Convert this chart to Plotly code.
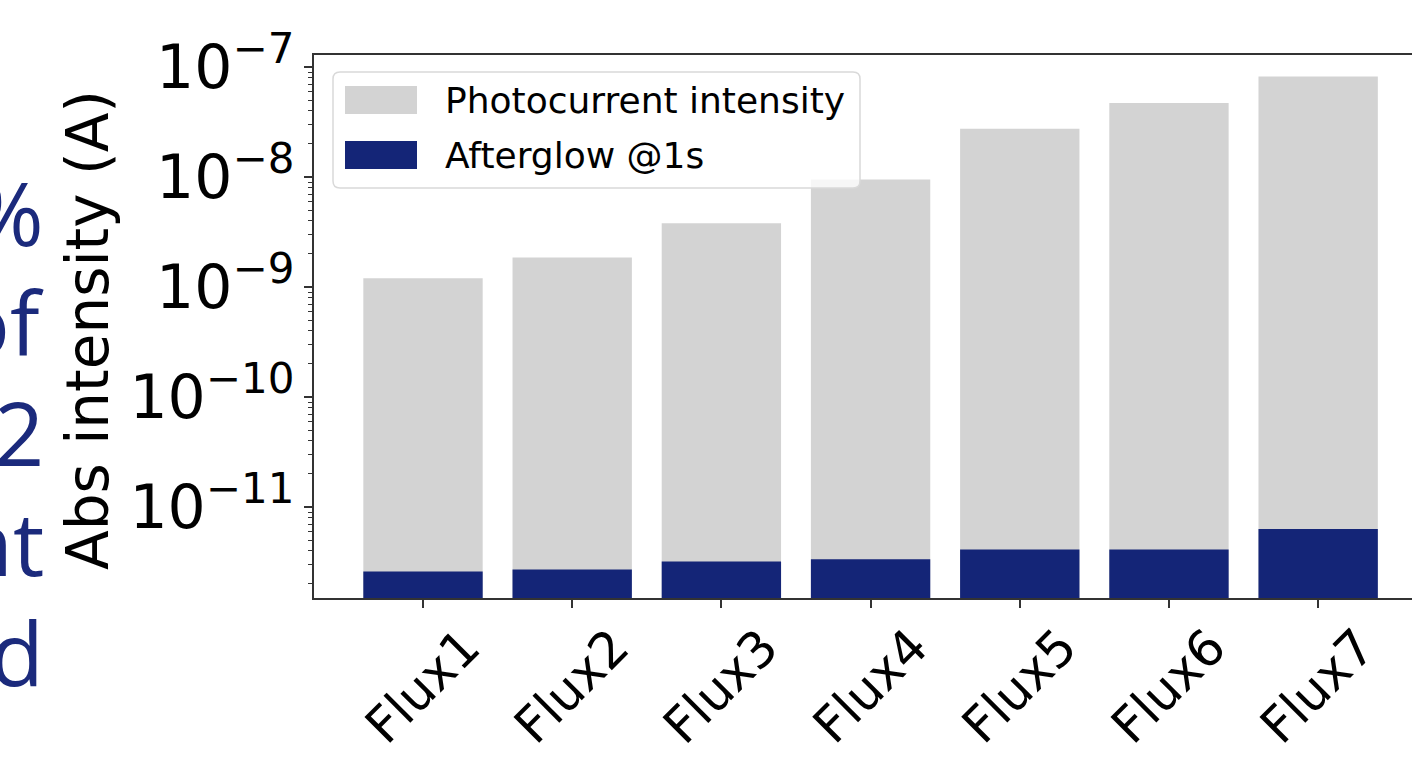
import plotly.graph_objects as go

# Data
categories = ["Flux1", "Flux2", "Flux3", "Flux4", "Flux5", "Flux6", "Flux7"]
photocurrent = [1.2e-9, 1.85e-9, 3.8e-9, 9.5e-9, 2.75e-8, 4.7e-8, 8.2e-8]
afterglow_1s = [2.6e-12, 2.7e-12, 3.2e-12, 3.35e-12, 4.1e-12, 4.1e-12, 6.3e-12]
series_names = ["Photocurrent intensity", "Afterglow @1s"]
y_title = "Abs intensity (A)"
side_text = ["%", "of", "2", "nt", "d"]

# Canvas / plot-area geometry (pixels)
W, H = 1412, 758
L, R, T, B = 314, 0, 55, 160
PW, PH = W - L - R, H - T - B


def px(x):
    return (x - L) / PW


def py(y):
    return (H - B - y) / PH


GREY = "#d3d3d3"
NAVY = "#142577"
TEXT_NAVY = "#1b2a7c"
AXIS = "#333333"
FONT = "DejaVu Sans"

fig = go.Figure()
fig.add_bar(x=categories, y=photocurrent, name=series_names[0], width=0.8,
            marker=dict(color=GREY, line=dict(width=0)), showlegend=False)
fig.add_bar(x=categories, y=afterglow_1s, name=series_names[1], width=0.8,
            marker=dict(color=NAVY, line=dict(width=0)), showlegend=False)

annotations = []

# Rotated category labels centred under each tick
for c in categories:
    annotations.append(dict(
        x=c, xref="x", y=0, yref="paper", yshift=-17,
        xanchor="center", yanchor="top", text=c, textangle=-45,
        showarrow=False, font=dict(family=FONT, size=50, color="black")))

# Y-axis title
annotations.append(dict(
    x=px(88), y=py(330), xref="paper", yref="paper", text=y_title,
    textangle=-90, showarrow=False, xanchor="center", yanchor="middle",
    font=dict(family=FONT, size=58, color="black")))

# Legend (drawn by hand so the swatches can be large)
shapes = []
lx0, lx1, ly0, ly1, r = 333, 860, 72, 188, 7


def rr_path(x0, y0, x1, y1, r):
    ax, ay = r / PW, r / PH
    X0, X1, Y0, Y1 = px(x0), px(x1), py(y0), py(y1)
    return (f"M{X0+ax},{Y0} L{X1-ax},{Y0} Q{X1},{Y0} {X1},{Y0-ay} "
            f"L{X1},{Y1+ay} Q{X1},{Y1} {X1-ax},{Y1} "
            f"L{X0+ax},{Y1} Q{X0},{Y1} {X0},{Y1+ay} "
            f"L{X0},{Y0-ay} Q{X0},{Y0} {X0+ax},{Y0} Z")


shapes.append(dict(type="path", xref="paper", yref="paper",
                   path=rr_path(lx0, ly0, lx1, ly1, r),
                   fillcolor="rgba(255,255,255,0.8)",
                   line=dict(color="#d9d9d9", width=1.5), layer="above"))
for name, color, yc in [(series_names[0], GREY, 100), (series_names[1], NAVY, 155)]:
    shapes.append(dict(type="rect", xref="paper", yref="paper",
                       x0=px(345), x1=px(417), y0=py(yc + 14), y1=py(yc - 14),
                       fillcolor=color, line=dict(width=0), layer="above"))
    annotations.append(dict(
        x=px(443), y=py(yc), xref="paper", yref="paper", text=name,
        xanchor="left", yanchor="middle", showarrow=False,
        font=dict(family=FONT, size=36, color="black")))

# Slide text running off the left edge
for i, t in enumerate(side_text):
    annotations.append(dict(
        x=px(46), y=py(212 + 110 * i), xref="paper", yref="paper", text=t,
        xanchor="right", yanchor="middle", showarrow=False, height=104,
        valign="middle",
        font=dict(family="Open Sans", size=88, color=TEXT_NAVY)))

fig.update_layout(
    width=W, height=H,
    margin=dict(l=L, r=R, t=T, b=B, pad=0),
    paper_bgcolor="white", plot_bgcolor="white",
    barmode="overlay", bargap=0.2,
    font=dict(family=FONT, color="black"),
    xaxis=dict(range=[-0.7306, 6.629], showgrid=False, zeroline=False,
               showline=True, mirror=True, linecolor=AXIS, linewidth=2,
               ticks="outside", ticklen=8, tickwidth=1.5, tickcolor=AXIS,
               showticklabels=False),
    yaxis=dict(type="log", range=[-11.827, -6.891], showgrid=False,
               zeroline=False, showline=True, linecolor=AXIS, linewidth=2,
               ticks="outside", ticklen=8, tickwidth=1.5, tickcolor=AXIS,
               dtick=1, exponentformat="power",
               tickfont=dict(family=FONT, size=48, color="black"),
               minor=dict(ticks="outside", ticklen=4, tickwidth=1,
                          tickcolor=AXIS, dtick="D1", showgrid=False)),
    annotations=annotations, shapes=shapes,
)

fig.write_html("out.html")
